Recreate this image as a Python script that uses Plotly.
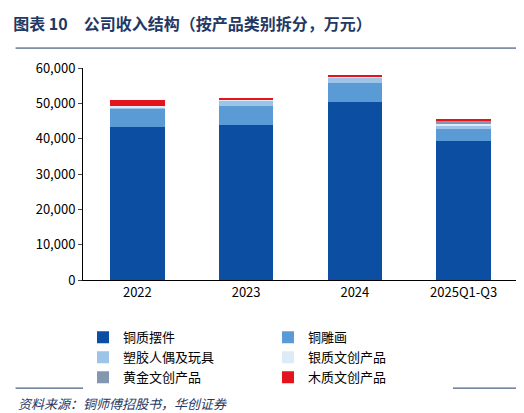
import plotly.graph_objects as go

cats = ["2022", "2023", "2024", "2025Q1-Q3"]
names = ["铜质摆件", "铜雕画", "塑胶人偶及玩具", "银质文创产品", "黄金文创产品", "木质文创产品"]
colors = ["#0B4EA2", "#5B9BD5", "#9DC3E6", "#DEEBF7", "#8497B0", "#E3141B"]
vals = [
    [43200, 43900, 50400, 39300],
    [5300, 5400, 5400, 3500],
    [300, 1600, 1400, 700],
    [500, 300, 300, 700],
    [0, 0, 0, 800],
    [1600, 300, 600, 300],
]

fig = go.Figure()
for n, c, v in zip(names, colors, vals):
    fig.add_bar(x=cats, y=v, name=n, marker_color=c, marker_line_width=0, width=0.5)

fig.update_layout(
    barmode="stack", width=524, height=413, plot_bgcolor="white", paper_bgcolor="white",
    font=dict(family="Noto Sans CJK SC", size=13, color="black"),
    title=dict(text="<b>图表 10　公司收入结构（按产品类别拆分，万元）</b>", x=0.01, y=0.975,
               font=dict(size=16, color="#1F3864")),
    margin=dict(l=75, r=14, t=60, b=141),
    legend=dict(orientation="h", x=0.0, y=-0.2, xanchor="left", yanchor="top",
                traceorder="normal", font=dict(size=13), entrywidth=140),
    yaxis=dict(range=[0, 60000], dtick=10000, tickformat=",", showgrid=False,
               showline=True, linecolor="black", ticks="outside", ticklen=4),
    xaxis=dict(showline=True, linecolor="black"),
)
fig.add_annotation(text="<i>资料来源：铜师傅招股书，华创证券</i>", xref="paper", yref="paper",
                   x=-0.155, y=-0.53, xanchor="left", yanchor="top", showarrow=False,
                   font=dict(size=13, color="#1F3864"))
fig.add_shape(type="line", xref="paper", yref="paper", x0=-0.155, x1=1.02, y0=-0.51, y1=-0.51,
              line=dict(color="#1F3864", width=1))
fig.add_shape(type="line", xref="paper", yref="paper", x0=-0.155, x1=1.02, y0=1.094, y1=1.094,
              line=dict(color="#1F3864", width=1))
fig.write_html("out.html")
